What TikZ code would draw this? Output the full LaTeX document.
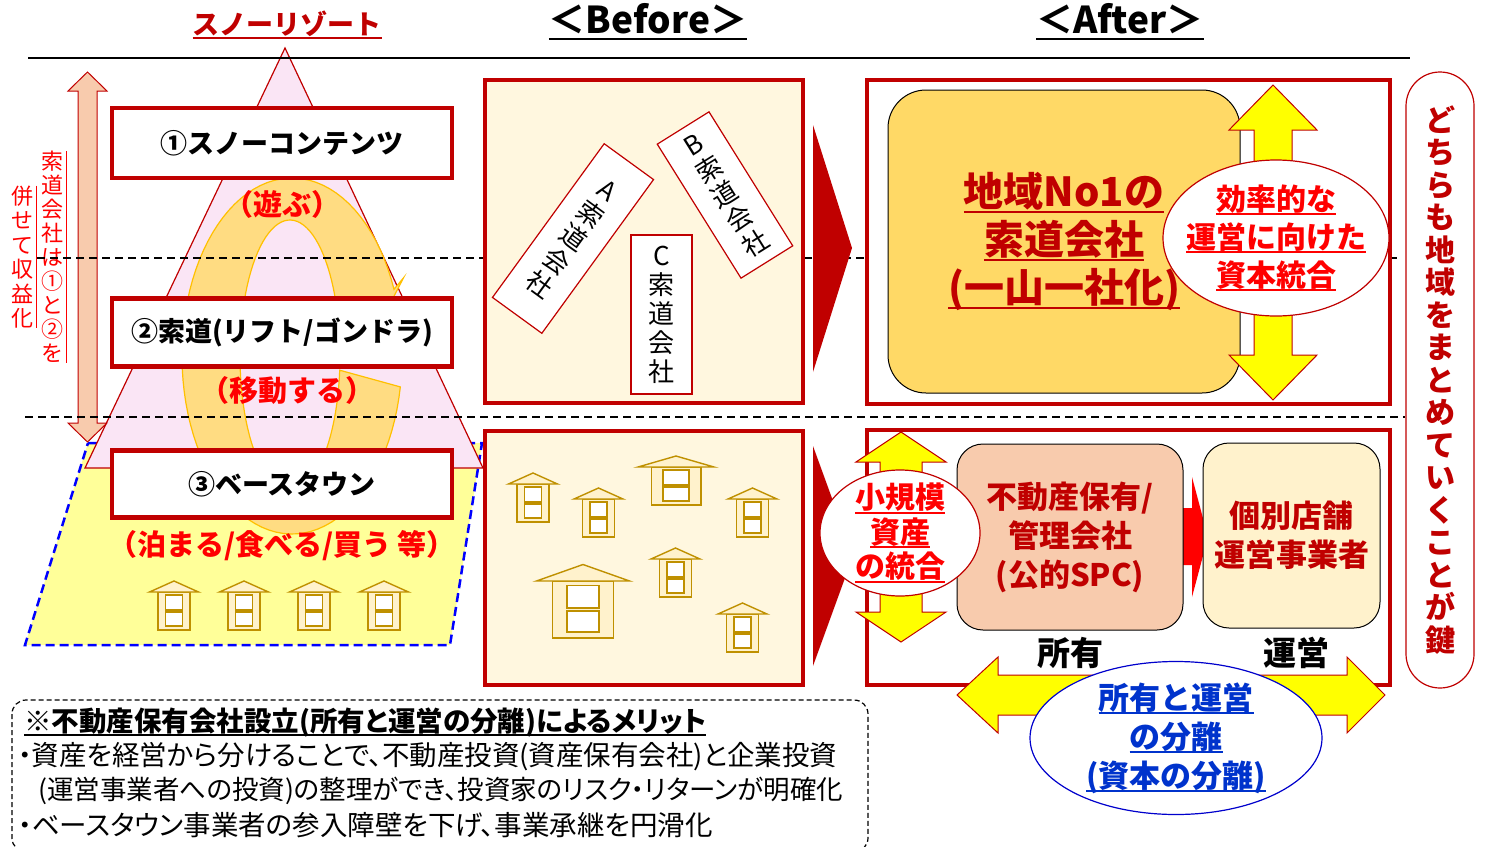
\documentclass[tikz,border=0pt]{standalone}
\usepackage{fontspec}
\setmainfont{Noto Sans CJK JP}
\newfontfamily\jpprop{Noto Sans CJK JP}[RawFeature=+palt]
\usetikzlibrary{shapes.geometric}

\definecolor{dred}{HTML}{C00000}
\definecolor{vred}{HTML}{FF0000}
\definecolor{mtpink}{HTML}{FAE5F5}
\definecolor{basey}{HTML}{FFFF99}
\definecolor{bandy}{HTML}{FFDC82}
\definecolor{bandline}{HTML}{FFC000}
\definecolor{peach}{HTML}{F8CBAD}
\definecolor{cream}{HTML}{FFF7DF}
\definecolor{hfill}{HTML}{FFF2CC}
\definecolor{hline}{HTML}{BF9000}
\definecolor{gold}{HTML}{FFD966}
\definecolor{arrowy}{HTML}{FFFF00}
\definecolor{sepblue}{HTML}{0000CC}
\definecolor{txtblue}{HTML}{0033CC}

% underline that scales with the font
\newcommand{\undl}[1]{\begingroup\setbox0=\hbox{#1}\rlap{\rule[-0.17em]{\wd0}{0.07em}}\box0\endgroup}

% small shop: x, bottom y, xscale, yscale
\newcommand{\house}[4]{%
\begin{scope}[shift={(#1,#2)},xscale=#3,yscale=#4]
  \filldraw[housestroke] (-16,0) rectangle (16,-38);
  \filldraw[housestroke] (-24.5,-38) -- (0,-49) -- (24.5,-38) -- cycle;
  \filldraw[housestroke, fill=white] (-8.5,-35) rectangle (8.5,-20);
  \filldraw[housestroke, fill=white] (-8.5,-18) rectangle (8.5,-4);
\end{scope}}

\tikzset{
  panel/.style={draw=dred, line width=4.5pt, inner sep=0pt},
  tierbox/.style={panel, fill=white, minimum width=340pt, font=\bfseries\fontsize{27}{32}\selectfont},
  redlabel/.style={text=vred, inner sep=0pt, font=\bfseries\fontsize{29}{34}\selectfont},
  ropeco/.style={draw=dred, line width=1.2pt, fill=white, inner sep=0pt, align=center,
    minimum width=61pt, font=\fontsize{26}{29}\selectfont},
  roundbox/.style={draw=black, line width=1pt, rounded corners=26pt, inner sep=0pt,
    align=center, text=dred, font=\bfseries\fontsize{31}{39}\selectfont},
  bubble/.style={ellipse, draw=dred, line width=1.2pt, fill=white, inner sep=0pt},
  bubbletext/.style={inner sep=0pt, align=center, text=vred, font=\bfseries\fontsize{30}{38}\selectfont},
  blockarrow/.style={fill=arrowy, draw=dred, line width=1pt},
  sepline/.style={line width=2pt, dash pattern=on 8pt off 5pt},
  housestroke/.style={draw=hline, fill=hfill, line width=1.4pt},
  vtext/.style={align=center, inner sep=0pt},
  note/.style={anchor=west, inner sep=0pt, font=\jpprop\fontsize{27.5}{30}\selectfont}
}

\begin{document}
\begin{tikzpicture}[x=1pt,y=-1pt]
\useasboundingbox (0,0) rectangle (1485,846);

% base town and mountain
\filldraw[fill=basey, draw=blue, line width=2.5pt, dash pattern=on 9pt off 5pt]
  (88,443) -- (482,443) -- (450,645) -- (25,645) -- cycle;
\filldraw[fill=mtpink, draw=dred, line width=1.2pt] (285,48) -- (483,468) -- (85,468) -- cycle;

% cycle arrow round the mountain
\filldraw[fill=bandy, draw=bandline, line width=1.2pt]
  plot[domain=10:338, samples=90, variable=\t] ({292+110*cos(\t)},{356+178*sin(\t)})
  -- ({292+122*cos(336)},{356+192*sin(336)})
  -- ({292+80*cos(354)},{356+157*sin(354)})
  -- ({290+38*cos(336)},{356+122*sin(336)})
  -- plot[domain=6:338, samples=90, variable=\t] ({290+50*cos(344-\t)},{356+136*sin(344-\t)})
  -- cycle;

\foreach \hx in {174,244,314,384}
{
  \house{\hx}{630}{1}{1}
}

% left arrow and note
\filldraw[fill=peach, draw=dred, line width=1pt]
  (87.5,72) -- (107,91) -- (97,91) -- (97,423) -- (107,423) -- (87.5,442)
  -- (68,423) -- (78,423) -- (78,91) -- (68,91) -- cycle;
\node[vtext, text=vred, font=\fontsize{22}{24}\selectfont] (earn1) at (52,257)
  {索\\道\\会\\社\\は\\①\\と\\②\\を};
\node[vtext, text=vred, font=\fontsize{22}{24.4}\selectfont] (earn2) at (22,257)
  {併\\せ\\て\\収\\益\\化};
\draw[vred, line width=1pt] ([xshift=3pt]earn1.north east) -- ([xshift=3pt]earn1.south east);
\draw[vred, line width=1pt] ([xshift=3pt]earn2.north east) -- ([xshift=3pt]earn2.south east);

% separators
\draw[sepline] (37,258) -- (1400,258);
\draw[sepline] (25,417) -- (1405,417);
\draw[line width=1.5pt] (28,58) -- (1410,58);

% headings
\node[text=dred, inner sep=0pt, font=\bfseries\fontsize{27}{32}\selectfont] (resort) at (287,25) {\undl{スノーリゾート}};
\node[inner sep=0pt, font=\bfseries\fontsize{37}{40}\selectfont] (before) at (648,22) {\undl{＜Before＞}};
\node[inner sep=0pt, font=\bfseries\fontsize{37}{40}\selectfont] (after) at (1120,22) {\undl{＜After＞}};

% the three tiers
\node[tierbox, minimum height=70pt] (snow) at (282,143) {①スノーコンテンツ};
\node[tierbox, minimum height=68pt] (lift) at (282,332.5) {②索道(リフト/ゴンドラ)};
\node[tierbox, minimum height=67pt] (town) at (282,484) {③ベースタウン};
\node[redlabel] (play) at (282,204) {（遊ぶ）};
\node[redlabel] (move) at (287,390) {（移動する）};
\node[redlabel] (stay) at (282,546) {（泊まる/食べる/買う 等）};

% Before
\node[panel, fill=cream, minimum width=318pt, minimum height=323pt] (oldrope) at (644,241.5) {};
\node[ropeco, rotate=-36, minimum height=190pt] (ropeA) at (573,238.5) {A\\索\\道\\会\\社};
\node[ropeco, rotate=32, minimum height=158pt] (ropeB) at (725,195) {B\\索\\道\\会\\社};
\node[ropeco, minimum height=159pt] (ropeC) at (661.5,314.5) {C\\索\\道\\会\\社};

\node[panel, fill=cream, minimum width=318pt, minimum height=254pt] (oldtown) at (644,558) {};
\house{533}{522}{1}{1}
\house{598.5}{537}{1}{1}
\house{676}{505}{1.55}{1}
\house{752.5}{537}{1}{1}
\house{583}{638}{1.9}{1.5}
\house{675.5}{597}{1}{1}
\house{742.5}{652}{1}{1}

\fill[dred] (813,125) -- (852,248) -- (813,372) -- cycle;
\fill[dred] (813,446) -- (853,556) -- (813,666) -- cycle;

% After: ropeways
\node[panel, fill=white, minimum width=523pt, minimum height=324pt] (newrope) at (1128.5,242) {};
\node[roundbox, fill=gold, rounded corners=38pt, minimum width=352pt, minimum height=303pt,
  font=\bfseries\fontsize{40}{48}\selectfont] (one) at (1064,241.5)
  {\undl{地域No1の}\\\undl{索道会社}\\\undl{(一山一社化)}};
\filldraw[blockarrow] (1273,85) -- (1317,130) -- (1292,130) -- (1292,355) -- (1317,355)
  -- (1273,400) -- (1229,355) -- (1254,355) -- (1254,130) -- (1229,130) -- cycle;
\node[bubble, minimum width=226pt, minimum height=156pt] (merge) at (1276,238) {};
\node[bubbletext] (mergetext) at (merge.center)
  {\undl{効率的な}\\\undl{運営に向けた}\\\undl{資本統合}};

% After: base town
\node[panel, fill=white, minimum width=523pt, minimum height=255pt] (newtown) at (1128.5,557.5) {};
\filldraw[blockarrow] (901,432) -- (946,462) -- (922,462) -- (922,612) -- (946,612)
  -- (901,642) -- (856,612) -- (880,612) -- (880,462) -- (856,462) -- cycle;
\fill[vred] (1175,508) -- (1192,508) -- (1192,477) -- (1208,537) -- (1192,597) -- (1192,565) -- (1175,565) -- cycle;
\node[roundbox, fill=peach, minimum width=226pt, minimum height=186pt] (owner) at (1070,537)
  {不動産保有/\\管理会社\\(公的SPC)};
\node[roundbox, fill=hfill, minimum width=177pt, minimum height=185pt] (operator) at (1291.5,535.5)
  {個別店舗\\運営事業者};
\node[bubble, minimum width=160pt, minimum height=126pt] (small) at (900,533) {};
\node[bubbletext, font=\bfseries\fontsize{30}{34.5}\selectfont] (smalltext) at (small.center)
  {\undl{小規模}\\\undl{資産}\\\undl{の統合}};
\node[inner sep=0pt, font=\bfseries\fontsize{33}{36}\selectfont] (own) at (1070,653) {所有};
\node[inner sep=0pt, font=\bfseries\fontsize{33}{36}\selectfont] (run) at (1296,653) {運営};
\filldraw[blockarrow] (957,695) -- (998,657) -- (998,675) -- (1347,675) -- (1347,657)
  -- (1385,695) -- (1347,733) -- (1347,715) -- (998,715) -- (998,733) -- cycle;
\node[bubble, draw=sepblue, minimum width=292pt, minimum height=153pt] (split) at (1176,738) {};
\node[bubbletext, text=txtblue, font=\bfseries\fontsize{31}{39}\selectfont] (splittext) at (split.center)
  {\undl{所有と運営}\\\undl{の分離}\\\undl{(資本の分離)}};

% key message
\node[draw=dred, line width=1.2pt, fill=white, rounded corners=34pt, minimum width=68pt,
  minimum height=616pt, inner sep=0pt, align=center, text=dred,
  font=\bfseries\fontsize{30}{32.5}\selectfont] (key) at (1440,380)
  {ど\\ち\\ら\\も\\地\\域\\を\\ま\\と\\め\\て\\い\\く\\こ\\と\\が\\鍵};

% merits
\draw[line width=1.2pt, dash pattern=on 5pt off 3pt, rounded corners=14pt] (12,700) rectangle (868,852);
\node[note, font=\jpprop\bfseries\fontsize{27.5}{30}\selectfont] (merit) at (24,722)
  {\undl{※不動産保有会社設立(所有と運営の分離)によるメリット}};
\node[note] (merit1) at (18,757) {・資産を経営から分けることで、不動産投資(資産保有会社)と企業投資};
\node[note, font=\jpprop\fontsize{26.5}{30}\selectfont] (merit2) at (38,791) {(運営事業者への投資)の整理ができ、投資家のリスク・リターンが明確化};
\node[note] (merit3) at (18,825) {・ベースタウン事業者の参入障壁を下げ、事業承継を円滑化};

\end{tikzpicture}
\end{document}
